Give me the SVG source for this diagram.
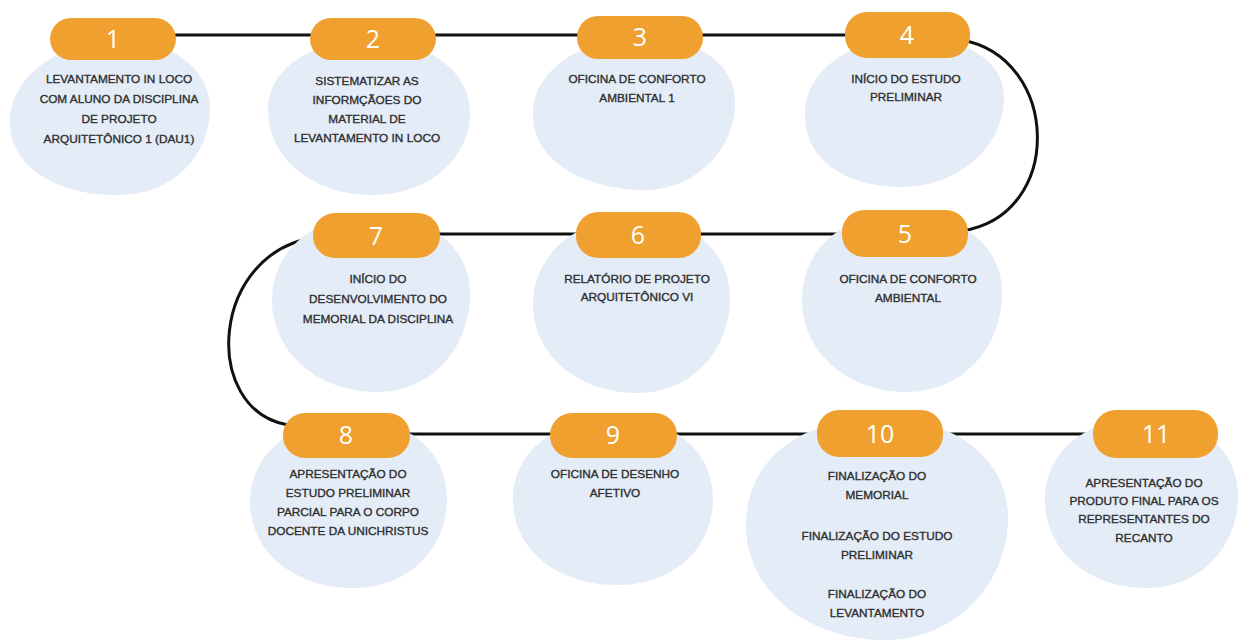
<svg xmlns="http://www.w3.org/2000/svg" width="1238" height="644" viewBox="0 0 1238 644">
<style>
.blob{fill:#E3ECF7}
.pill{fill:#EFA02E}
.num{font-family:"Open Sans","Liberation Sans",sans-serif;font-size:25px;fill:#ffffff;text-anchor:middle}
.lbl{font-family:"Liberation Sans",Arial,sans-serif;font-size:11.8px;fill:#2E2E2E;stroke:#2E2E2E;stroke-width:0.35;text-anchor:middle}
.con{fill:none;stroke:#111111;stroke-width:3;stroke-linecap:round}
</style>
<rect width="1238" height="644" fill="#ffffff"/>
<g id="connectors">
<path class="con" d="M150,35 L870,35"/>
<path class="con" d="M962,40 C1060,58 1065,215 962,231"/>
<path class="con" d="M420,234 L860,234"/>
<path class="con" d="M318,237 C210,250 200,410 288,425"/>
<path class="con" d="M390,434 L1110,434"/>
</g>
<g id="node1">
<path class="blob" d="M115,40 C168,38 212,68 210,110 C208,160 170,195 118,195 C62,196 12,170 10,125 C8,78 58,42 115,40Z"/>
<rect class="pill" x="50" y="18" width="126" height="42" rx="21"/>
<text class="num" x="113" y="48">1</text>
<text class="lbl" x="119" y="83">LEVANTAMENTO IN LOCO</text>
<text class="lbl" x="119" y="103">COM ALUNO DA DISCIPLINA</text>
<text class="lbl" x="119" y="123">DE PROJETO</text>
<text class="lbl" x="119" y="143">ARQUITETÔNICO 1 (DAU1)</text>
</g>
<g id="node2">
<path class="blob" d="M370,40 C428,40 472,72 470,115 C468,162 425,196 370,195 C312,194 268,158 268,110 C268,68 312,40 370,40Z"/>
<rect class="pill" x="310" y="18" width="126" height="42" rx="21"/>
<text class="num" x="373" y="48">2</text>
<text class="lbl" x="367" y="85">SISTEMATIZAR AS</text>
<text class="lbl" x="367" y="104">INFORMÇÃOES DO</text>
<text class="lbl" x="367" y="123">MATERIAL DE</text>
<text class="lbl" x="367" y="142">LEVANTAMENTO IN LOCO</text>
</g>
<g id="node3">
<path class="blob" d="M637,38 C695,36 737,62 735,105 C733,155 690,192 640,190 C582,188 533,160 533,115 C533,70 580,40 637,38Z"/>
<rect class="pill" x="577" y="16" width="126" height="43" rx="21"/>
<text class="num" x="640" y="46">3</text>
<text class="lbl" x="637" y="83">OFICINA DE CONFORTO</text>
<text class="lbl" x="637" y="102">AMBIENTAL 1</text>
</g>
<g id="node4">
<path class="blob" d="M905,38 C965,36 1006,60 1004,100 C1002,150 955,188 900,187 C845,186 805,160 805,115 C805,70 850,40 905,38Z"/>
<rect class="pill" x="845" y="12" width="125" height="46" rx="22"/>
<text class="num" x="907" y="44">4</text>
<text class="lbl" x="906" y="83">INÍCIO DO ESTUDO</text>
<text class="lbl" x="906" y="101">PRELIMINAR</text>
</g>
<g id="node5">
<path class="blob" d="M900,213 C960,212 1003,245 1002,295 C1001,350 960,393 905,392 C845,391 802,350 802,300 C802,250 842,214 900,213Z"/>
<rect class="pill" x="842" y="210" width="126" height="47" rx="22"/>
<text class="num" x="905" y="243">5</text>
<text class="lbl" x="908" y="283">OFICINA DE CONFORTO</text>
<text class="lbl" x="908" y="302">AMBIENTAL</text>
</g>
<g id="node6">
<path class="blob" d="M632,218 C690,217 731,250 730,300 C729,352 690,394 635,393 C575,392 533,352 533,305 C533,255 575,219 632,218Z"/>
<rect class="pill" x="576" y="212" width="125" height="46" rx="22"/>
<text class="num" x="638" y="244">6</text>
<text class="lbl" x="637" y="283">RELATÓRIO DE PROJETO</text>
<text class="lbl" x="637" y="301">ARQUITETÔNICO VI</text>
</g>
<g id="node7">
<path class="blob" d="M370,215 C430,214 471,248 470,295 C469,350 430,393 375,392 C315,391 272,350 272,300 C272,252 312,216 370,215Z"/>
<rect class="pill" x="313" y="213" width="127" height="45" rx="22"/>
<text class="num" x="376" y="245">7</text>
<text class="lbl" x="378" y="283">INÍCIO DO</text>
<text class="lbl" x="378" y="303">DESENVOLVIMENTO DO</text>
<text class="lbl" x="378" y="323">MEMORIAL DA DISCIPLINA</text>
</g>
<g id="node8">
<path class="blob" d="M348,418 C405,417 448,450 447,500 C446,552 405,589 352,588 C292,587 250,550 250,502 C250,455 292,419 348,418Z"/>
<rect class="pill" x="283" y="413" width="127" height="45" rx="22"/>
<text class="num" x="346" y="444">8</text>
<text class="lbl" x="348" y="478">APRESENTAÇÃO DO</text>
<text class="lbl" x="348" y="497">ESTUDO PRELIMINAR</text>
<text class="lbl" x="348" y="516">PARCIAL PARA O CORPO</text>
<text class="lbl" x="348" y="535">DOCENTE DA UNICHRISTUS</text>
</g>
<g id="node9">
<path class="blob" d="M612,418 C672,417 714,450 713,500 C712,552 670,586 615,585 C555,584 513,548 513,500 C513,452 555,419 612,418Z"/>
<rect class="pill" x="550" y="413" width="127" height="45" rx="22"/>
<text class="num" x="613" y="444">9</text>
<text class="lbl" x="615" y="478">OFICINA DE DESENHO</text>
<text class="lbl" x="615" y="497">AFETIVO</text>
</g>
<g id="node10">
<path class="blob" d="M878,418 C955,417 1010,460 1008,520 C1006,590 950,642 880,640 C805,638 746,590 746,525 C746,460 800,419 878,418Z"/>
<rect class="pill" x="817" y="410" width="126" height="47" rx="22"/>
<text class="num" x="880" y="443">10</text>
<text class="lbl" x="877" y="480">FINALIZAÇÃO DO</text>
<text class="lbl" x="877" y="499">MEMORIAL</text>
<text class="lbl" x="877" y="540">FINALIZAÇÃO DO ESTUDO</text>
<text class="lbl" x="877" y="559">PRELIMINAR</text>
<text class="lbl" x="877" y="598">FINALIZAÇÃO DO</text>
<text class="lbl" x="877" y="617">LEVANTAMENTO</text>
</g>
<g id="node11">
<path class="blob" d="M1142,418 C1200,417 1240,450 1238,500 C1236,552 1195,589 1145,588 C1085,587 1045,548 1045,500 C1045,452 1085,419 1142,418Z"/>
<rect class="pill" x="1093" y="410" width="125" height="48" rx="23"/>
<text class="num" x="1156" y="443">11</text>
<text class="lbl" x="1144" y="487">APRESENTAÇÃO DO</text>
<text class="lbl" x="1144" y="505">PRODUTO FINAL PARA OS</text>
<text class="lbl" x="1144" y="523">REPRESENTANTES DO</text>
<text class="lbl" x="1144" y="542">RECANTO</text>
</g>
</svg>
